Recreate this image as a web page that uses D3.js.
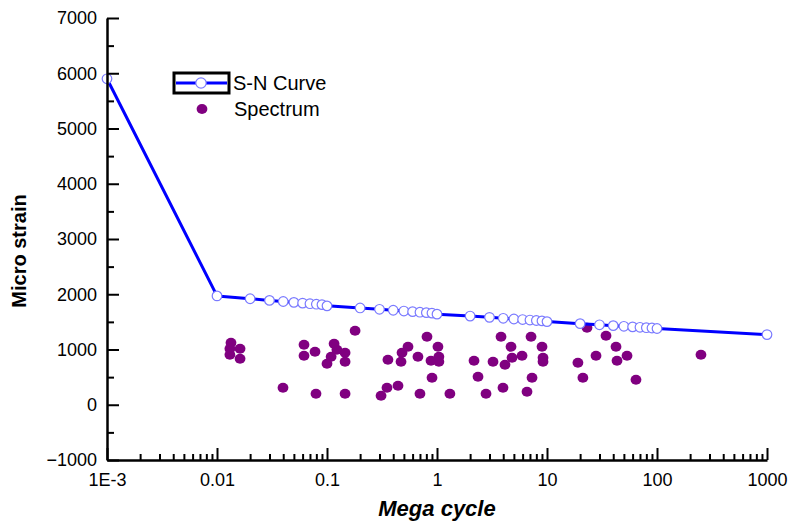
<!DOCTYPE html>
<html>
<head>
<meta charset="utf-8">
<script src="https://cdn.jsdelivr.net/npm/d3@7"></script>
<style>
  body { margin: 0; background: #fff; }
  svg { display: block; font-family: Arial, "Liberation Sans", sans-serif; }
  .axis path, .axis line { stroke: #000; }
</style>
</head>
<body>
<div id="chart"></div>
<script>
// S-N curve (mega cycles vs micro strain)
var snCycles = [0.001,
  0.01, 0.02, 0.03, 0.04, 0.05, 0.06, 0.07, 0.08, 0.09,
  0.1, 0.2, 0.3, 0.4, 0.5, 0.6, 0.7, 0.8, 0.9,
  1, 2, 3, 4, 5, 6, 7, 8, 9,
  10, 20, 30, 40, 50, 60, 70, 80, 90,
  100, 1000];
var snStrain = [5900,
  1970, 1919, 1889, 1869, 1853, 1840, 1829, 1820, 1812,
  1790, 1752, 1728, 1710, 1696, 1685, 1675, 1667, 1659,
  1640, 1605, 1582, 1565, 1552, 1542, 1533, 1525, 1518,
  1505, 1468, 1447, 1432, 1420, 1410, 1402, 1395, 1389,
  1380, 1270];

// measured spectrum
var specCycles = [0.0134, 0.0131, 0.0131, 0.0162, 0.0162,
  0.0398, 0.0618, 0.0618, 0.0778, 0.0794,
  0.180, 0.116, 0.123, 0.109, 0.100, 0.146, 0.146, 0.146,
  0.358, 0.310, 0.351, 0.442, 0.471, 0.481, 0.545, 0.671, 0.700, 0.811, 0.882,
  1.02, 1.04, 1.04, 0.901, 1.31,
  2.17, 2.36, 2.79, 3.23, 3.82, 4.71, 4.15, 4.81, 5.93, 3.98, 6.58, 7.16, 9.01, 9.2, 9.2, 7.31,
  19.1, 21.2, 23.1, 27.9, 34.4, 42.4, 43.3, 53.4, 64.4, 251];
var specStrain = [1120, 1014, 905, 1014, 833,
  308, 1086, 887, 959, 199,
  1339, 1104, 995, 869, 742, 941, 778, 199,
  814, 163, 308, 344, 778, 941, 1050, 869, 199, 1231, 796,
  1050, 869, 778, 489, 199,
  796, 507, 199, 778, 1231, 1050, 724, 851, 887, 308, 235, 1231, 1050, 851, 778, 489,
  760, 489, 1394, 887, 1249, 1050, 796, 887, 452, 905];

var xMajor = [0.001, 0.01, 0.1, 1, 10, 100, 1000];
var xLabels = ["1E-3", "0.01", "0.1", "1", "10", "100", "1000"];
var yMajor = [-1000, 0, 1000, 2000, 3000, 4000, 5000, 6000, 7000];
var yMinor = [-500, 500, 1500, 2500, 3500, 4500, 5500, 6500];

var W = 789, H = 524;
var plot = { left: 107, right: 767, top: 18, bottom: 460 };

var svg = d3.select("#chart").append("svg")
  .attr("width", W)
  .attr("height", H);

var x = d3.scaleLog().domain([0.001, 1000]).range([plot.left, plot.right]);
var y = d3.scaleLinear().domain([-1000, 7000]).range([plot.bottom, plot.top]);

// spectrum points
svg.append("g").selectAll("ellipse")
  .data(specCycles)
  .enter()
  .append("ellipse")
  .attr("cx", function (d) { return x(d); })
  .attr("cy", function (d, i) { return y(specStrain[i]); })
  .attr("rx", 5.4)
  .attr("ry", 5)
  .attr("fill", "#800080");

// S-N curve
var snData = snCycles.map(function (c, i) { return [c, snStrain[i]]; });
svg.append("path")
  .datum(snData)
  .attr("fill", "none")
  .attr("stroke", "#0000ff")
  .attr("stroke-width", 3)
  .attr("stroke-linejoin", "round")
  .attr("d", d3.line()
    .x(function (d) { return x(d[0]); })
    .y(function (d) { return y(d[1]); }));

svg.append("g").selectAll("circle")
  .data(snData)
  .enter()
  .append("circle")
  .attr("cx", function (d) { return x(d[0]); })
  .attr("cy", function (d) { return y(d[1]); })
  .attr("r", 4.8)
  .attr("fill", "#fff")
  .attr("stroke", "#7a7aff")
  .attr("stroke-width", 1.2);

// axes, ticks pointing inwards
var xMinor = x.ticks().filter(function (t) {
  return xMajor.indexOf(+t.toPrecision(6)) < 0;
});

svg.append("g")
  .attr("class", "axis")
  .attr("transform", "translate(0," + plot.bottom + ")")
  .call(d3.axisBottom(x).tickValues(xMinor).tickFormat("").tickSize(-6).tickSizeOuter(0))
  .call(function (g) { g.select(".domain").remove(); })
  .selectAll("line").attr("stroke-width", 2);

var xAxis = svg.append("g")
  .attr("class", "axis")
  .attr("transform", "translate(0," + plot.bottom + ")")
  .call(d3.axisBottom(x)
    .tickValues(xMajor)
    .tickFormat(function (d, i) { return xLabels[i]; })
    .tickSize(-12)
    .tickSizeOuter(0)
    .tickPadding(13));
xAxis.select(".domain").attr("stroke-width", 2.5);
xAxis.selectAll("line").attr("stroke-width", 2);
xAxis.selectAll("text").attr("font-size", 18).attr("fill", "#000")
  .attr("font-family", "Arial, 'Liberation Sans', sans-serif");

svg.append("g")
  .attr("class", "axis")
  .attr("transform", "translate(" + plot.left + ",0)")
  .call(d3.axisLeft(y).tickValues(yMinor).tickFormat("").tickSize(-7).tickSizeOuter(0))
  .call(function (g) { g.select(".domain").remove(); })
  .selectAll("line").attr("stroke-width", 2);

var yAxis = svg.append("g")
  .attr("class", "axis")
  .attr("transform", "translate(" + plot.left + ",0)")
  .call(d3.axisLeft(y)
    .tickValues(yMajor)
    .tickFormat(d3.format("d"))
    .tickSize(-12)
    .tickSizeOuter(0)
    .tickPadding(10));
yAxis.select(".domain").attr("stroke-width", 2.5);
yAxis.selectAll("line").attr("stroke-width", 2);
yAxis.selectAll("text").attr("font-size", 18).attr("fill", "#000")
  .attr("font-family", "Arial, 'Liberation Sans', sans-serif");

// axis titles
svg.append("text")
  .attr("transform", "translate(26,251) rotate(-90)")
  .attr("text-anchor", "middle")
  .attr("font-size", 20)
  .attr("font-weight", "bold")
  .text("Micro strain");

svg.append("text")
  .attr("x", 437)
  .attr("y", 516)
  .attr("text-anchor", "middle")
  .attr("font-size", 22)
  .attr("font-weight", "bold")
  .attr("font-style", "italic")
  .text("Mega cycle");

// legend
var legend = svg.append("g");
legend.append("rect")
  .attr("x", 174).attr("y", 73)
  .attr("width", 55).attr("height", 20)
  .attr("fill", "#fff")
  .attr("stroke", "#000")
  .attr("stroke-width", 3);
legend.append("line")
  .attr("x1", 176).attr("x2", 227)
  .attr("y1", 83).attr("y2", 83)
  .attr("stroke", "#0000ff")
  .attr("stroke-width", 3);
legend.append("circle")
  .attr("cx", 201).attr("cy", 83).attr("r", 5.2)
  .attr("fill", "#fff")
  .attr("stroke", "#7a7aff")
  .attr("stroke-width", 1.2);
legend.append("text")
  .attr("x", 233).attr("y", 90)
  .attr("font-size", 20)
  .text("S-N Curve");
legend.append("ellipse")
  .attr("cx", 202).attr("cy", 109)
  .attr("rx", 5.4).attr("ry", 5)
  .attr("fill", "#800080");
legend.append("text")
  .attr("x", 234).attr("y", 116)
  .attr("font-size", 20)
  .text("Spectrum");
</script>
</body>
</html>
